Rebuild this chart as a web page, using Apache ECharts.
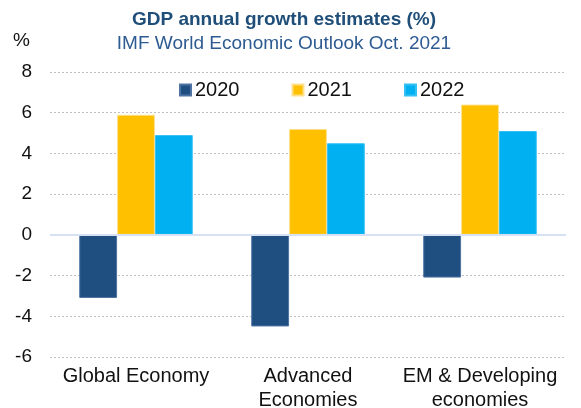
<!DOCTYPE html>
<html>
<head>
<meta charset="utf-8">
<script src="https://cdn.jsdelivr.net/npm/echarts@6/dist/echarts.min.js"></script>
<style>
html,body{margin:0;padding:0;background:#fff;}
#c{width:581px;height:408px;}
</style>
</head>
<body>
<div id="c"></div>
<script>
const categories = ['Global Economy', 'Advanced\nEconomies', 'EM & Developing\neconomies'];
const seriesNames = ['2020', '2021', '2022'];
const values2020 = [-3.1, -4.5, -2.1];
const values2021 = [5.9, 5.2, 6.4];
const values2022 = [4.9, 4.5, 5.1];
const yTicks = [-6, -4, -2, 0, 2, 4, 6, 8];

const FONT = 'Liberation Sans, Arial, sans-serif';
const chart = echarts.init(document.getElementById('c'));
chart.setOption({
  animation: false,
  backgroundColor: '#ffffff',
  title: [
    { text: 'GDP annual growth estimates (%)', left: 284, top: 10, textAlign: 'center', padding: 0,
      textStyle: { fontFamily: FONT, fontSize: 19, fontWeight: 'bold', color: '#1f4e79' } },
    { text: 'IMF World Economic Outlook Oct. 2021', left: 284, top: 34, textAlign: 'center', padding: 0,
      textStyle: { fontFamily: FONT, fontSize: 19, fontWeight: 'normal', color: '#2e5b92' } }
  ],
  legend: {
    data: seriesNames,
    left: 179, top: 80, padding: 0,
    itemWidth: 11, itemHeight: 11, itemGap: 52,
    icon: 'rect',
    textStyle: { fontFamily: FONT, fontSize: 20, color: '#111', padding: [0, 0, 0, -1] }
  },
  grid: { left: 50, right: 15, top: 72, bottom: 51, outerBoundsMode: 'none' },
  xAxis: {
    type: 'category',
    data: categories,
    axisLine: { show: false },
    axisTick: { show: false },
    axisLabel: { fontFamily: FONT, fontSize: 20, color: '#111', margin: 7, lineHeight: 24, interval: 0 }
  },
  yAxis: {
    type: 'value',
    min: yTicks[0], max: yTicks[yTicks.length - 1], interval: 2,
    name: '%',
    nameLocation: 'end',
    nameGap: 22,
    nameTextStyle: { fontFamily: FONT, fontSize: 19, color: '#111', align: 'right', padding: [0, 20, 0, 0] },
    axisLine: { show: false },
    axisTick: { show: false },
    axisLabel: { fontFamily: FONT, fontSize: 19, color: '#111', margin: 18 },
    splitLine: { lineStyle: { color: '#bfbfbf', type: [2, 2], width: 1 } }
  },
  series: [
    { name: seriesNames[0], type: 'bar', data: values2020, barGap: '0%', barCategoryGap: '34%',
      itemStyle: { color: '#1f4e80', borderColor: '#4f74a3', borderWidth: 1 },
      markLine: { silent: true, symbol: 'none', label: { show: false },
        lineStyle: { color: '#d6e2f3', type: 'solid', width: 2 }, data: [{ yAxis: 0 }] } },
    { name: seriesNames[1], type: 'bar', data: values2021, barGap: '0%', barCategoryGap: '34%',
      itemStyle: { color: '#ffc000', borderColor: '#ffe08a', borderWidth: 1 } },
    { name: seriesNames[2], type: 'bar', data: values2022, barGap: '0%', barCategoryGap: '34%',
      itemStyle: { color: '#00b0f0', borderColor: '#33c0f3', borderWidth: 1 } }
  ]
});
</script>
</body>
</html>
